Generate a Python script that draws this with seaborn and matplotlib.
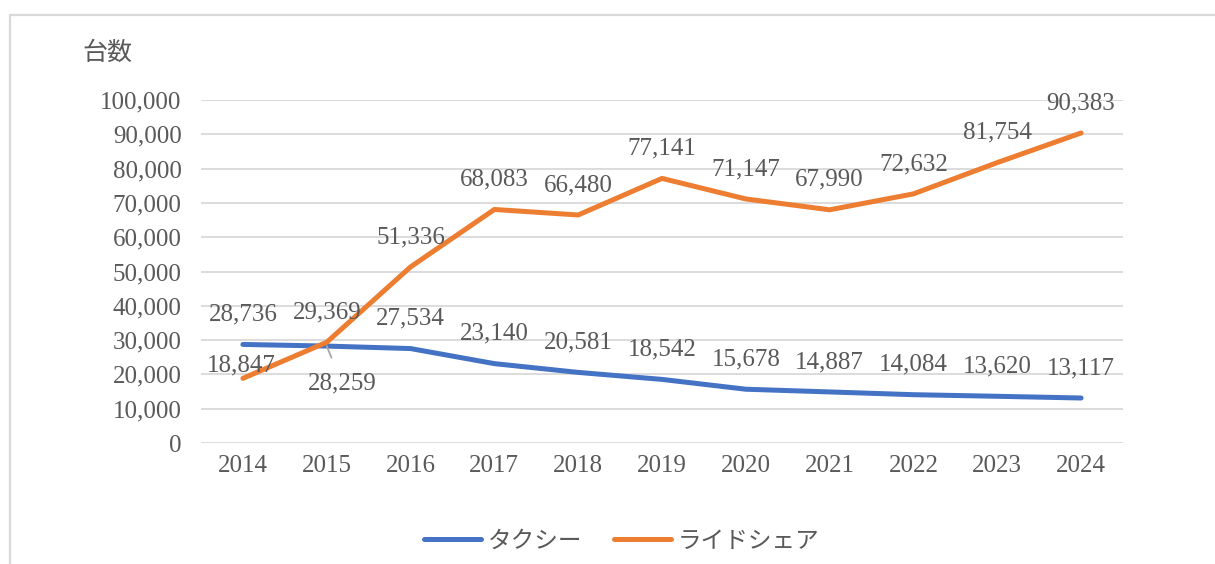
import matplotlib
matplotlib.use("Agg")
import matplotlib.pyplot as plt
from matplotlib.lines import Line2D
import seaborn as sns
import pandas as pd

# Vehicle counts per year
years = [2014, 2015, 2016, 2017, 2018, 2019, 2020, 2021, 2022, 2023, 2024]
taxi = [28736, 28259, 27534, 23140, 20581, 18542, 15678, 14887, 14084, 13620, 13117]
rideshare = [18847, 29369, 51336, 68083, 66480, 77141, 71147, 67990, 72632, 81754, 90383]
series_names = ["タクシー", "ライドシェア"]
y_ticks = list(range(0, 100001, 10000))
y_title = "台数"

colors = {"タクシー": "#4472C4", "ライドシェア": "#ED7D31"}
text_color = "#595959"
grid_color = "#D9D9D9"
num_font = "Liberation Serif"
jp_font = ["Noto Sans CJK JP", "DejaVu Sans"]

sns.set_theme(style="white")
plt.rcParams["font.family"] = jp_font

df = pd.DataFrame({
    "year": years * 2,
    "value": taxi + rideshare,
    "series": [series_names[0]] * len(years) + [series_names[1]] * len(years),
})

fig = plt.figure(figsize=(12.15, 5.64), dpi=100)
ax = fig.add_axes([201 / 1215, 1 - 443 / 564, (1123 - 201) / 1215, (443 - 100) / 564])

sns.lineplot(data=df, x="year", y="value", hue="series", palette=colors,
             linewidth=3.6, ax=ax, legend=False, sort=False)
for ln in ax.get_lines():
    ln.set_solid_joinstyle("round")
    ln.set_solid_capstyle("round")

ax.set_xlim(years[0] - 0.5, years[-1] + 0.5)
ax.set_ylim(0, 100000)
ax.set_yticks(y_ticks)
ax.set_yticklabels([f"{v:,}" for v in y_ticks], fontfamily=num_font, fontsize=18, color=text_color)
ax.set_xticks(years)
ax.set_xticklabels([str(y) for y in years], fontfamily=num_font, fontsize=18, color=text_color)
ax.tick_params(axis="y", length=0, pad=14)
ax.tick_params(axis="x", length=0, pad=9)
ax.set_xlabel("")
ax.set_ylabel("")
for s in ax.spines.values():
    s.set_visible(False)
ax.yaxis.grid(True, color=grid_color, linewidth=1.3)
ax.xaxis.grid(False)
ax.set_axisbelow(True)

# data labels (offsets in points)
def label(x, y, dx, dy, **kw):
    ax.annotate(f"{y:,}", (x, y), xytext=(dx, dy), textcoords="offset points",
                ha="center", va="center", fontfamily=num_font, fontsize=18,
                color=text_color, **kw)

for i, (yr, v) in enumerate(zip(years, taxi)):
    if i == 1:
        label(yr, v, 11, -27,
              arrowprops=dict(arrowstyle="-", color="#A6A6A6", lw=1.3,
                              shrinkA=9, shrinkB=0))
    else:
        label(yr, v, 0, 21.5)

for i, (yr, v) in enumerate(zip(years, rideshare)):
    if i == 0:
        label(yr, v, -1, 9.5)
    else:
        label(yr, v, 0, 21.5)

# chart title
fig.text(82 / 1215, 1 - 53 / 564, y_title, ha="left", va="center",
         fontsize=18, color=text_color)

# legend
handles = [Line2D([0], [0], color=colors[n], lw=3.6, solid_capstyle="round") for n in series_names]
leg = fig.legend(handles, series_names, loc="center", bbox_to_anchor=(622 / 1215, 1 - 541 / 564),
                 ncol=2, frameon=False, fontsize=17, handlelength=2.4, handletextpad=0.3,
                 columnspacing=1.35)
for t in leg.get_texts():
    t.set_color(text_color)

# outer frame edges
fig.add_artist(Line2D([10 / 1215, 10 / 1215], [0, 1 - 15 / 564], transform=fig.transFigure,
                      color=grid_color, lw=1.6))
fig.add_artist(Line2D([10 / 1215, 1], [1 - 15 / 564, 1 - 15 / 564], transform=fig.transFigure,
                      color=grid_color, lw=1.6))

fig.savefig("out.png", dpi=100, facecolor="white")
